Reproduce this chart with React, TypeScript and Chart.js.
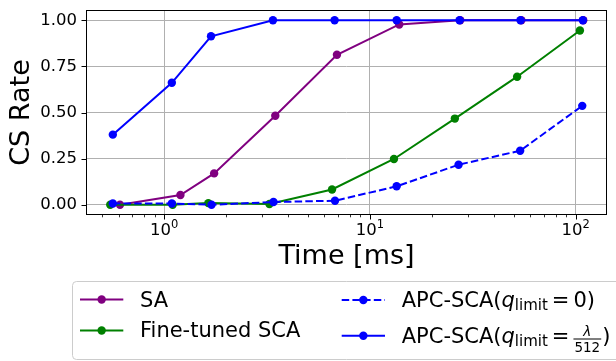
import React, { useEffect, useRef } from 'react';
import { Chart, registerables } from 'chart.js';

Chart.register(...registerables);

const FONT = "'DejaVu Sans', sans-serif";

// ---- data ----
const saTime = [0.61, 1.2, 1.75, 3.47, 6.92, 13.9, 27.5, 54.5, 109];
const saRate = [0.0, 0.053, 0.17, 0.482, 0.813, 0.977, 1.0, 1.0, 1.0];

const ftTime = [0.547, 1.1, 1.64, 3.25, 6.55, 13.1, 25.9, 52, 105];
const ftRate = [0.0, 0.0, 0.009, 0.004, 0.083, 0.248, 0.467, 0.694, 0.944];

const apc0Time = [0.563, 1.09, 1.7, 3.4, 6.77, 13.5, 27.0, 53.8, 107.8];
const apc0Rate = [0.007, 0.007, 0.0, 0.015, 0.022, 0.1, 0.217, 0.293, 0.536];

const apcLTime = [0.563, 1.09, 1.69, 3.38, 6.74, 13.5, 27.3, 54, 108.5];
const apcLRate = [0.38, 0.661, 0.913, 1.0, 1.0, 1.0, 1.0, 1.0, 1.0];

const yTicks = [0, 0.25, 0.5, 0.75, 1.0];
const xMajorTicks = [1, 10, 100];
const xMajorExp = ['0', '1', '2'];
const xMinorTicks = [0.5, 0.6, 0.7, 0.8, 0.9, 2, 3, 4, 5, 6, 7, 8, 9, 20, 30, 40, 50, 60, 70, 80, 90];

const X_MIN = 0.417;
const X_MAX = 142.2;
const Y_MIN = -0.05;
const Y_MAX = 1.05;

const PURPLE = '#800080';
const GREEN = '#008000';
const BLUE = '#0000ff';
const DASH = [7.5, 3.2];

function makeSet(label: string, xs: number[], ys: number[], color: string, dashed: boolean, order: number) {
  return {
    label,
    data: xs.map((x, i) => ({ x, y: ys[i] })),
    borderColor: color,
    backgroundColor: color,
    pointBackgroundColor: color,
    pointBorderColor: color,
    pointBorderWidth: 0,
    pointRadius: 4.2,
    borderWidth: 2,
    borderDash: dashed ? DASH : [],
    tension: 0,
    order,
  };
}

function drawText(ctx: CanvasRenderingContext2D, t: string, x: number, y: number, font: string) {
  ctx.font = font;
  ctx.fillText(t, x, y);
  return x + ctx.measureText(t).width;
}

function drawHandle(ctx: CanvasRenderingContext2D, x0: number, x1: number, y: number, color: string, dashed: boolean) {
  ctx.save();
  ctx.strokeStyle = color;
  ctx.lineWidth = 2;
  ctx.setLineDash(dashed ? DASH : []);
  ctx.beginPath();
  ctx.moveTo(x0, y);
  ctx.lineTo(x1, y);
  ctx.stroke();
  ctx.setLineDash([]);
  ctx.fillStyle = color;
  ctx.beginPath();
  ctx.arc((x0 + x1) / 2, y, 4.2, 0, Math.PI * 2);
  ctx.fill();
  ctx.restore();
}

const decor = {
  id: 'decor',
  afterDatasetsDraw(chart: any) {
    const { ctx, chartArea } = chart;
    const { left, right, top, bottom } = chartArea;
    const xs = chart.scales.x;
    const ys = chart.scales.y;
    ctx.save();
    ctx.strokeStyle = '#000';
    ctx.lineWidth = 1;
    ctx.strokeRect(left + 0.5, top - 0.5, right - left - 1, bottom - top + 1);
    ctx.beginPath();
    yTicks.forEach((v) => {
      const p = Math.round(ys.getPixelForValue(v)) + 0.5;
      ctx.moveTo(left + 0.5, p);
      ctx.lineTo(left - 4.5, p);
    });
    xMajorTicks.forEach((v) => {
      const p = Math.round(xs.getPixelForValue(v)) + 0.5;
      ctx.moveTo(p, bottom + 0.5);
      ctx.lineTo(p, bottom + 5.5);
    });
    ctx.stroke();
    ctx.lineWidth = 0.8;
    ctx.beginPath();
    xMinorTicks.forEach((v) => {
      const p = Math.round(xs.getPixelForValue(v)) + 0.5;
      ctx.moveTo(p, bottom + 0.5);
      ctx.lineTo(p, bottom + 3.3);
    });
    ctx.stroke();
    ctx.restore();
  },
  afterDraw(chart: any) {
    const { ctx } = chart;
    const xs = chart.scales.x;
    ctx.save();
    ctx.fillStyle = '#000';
    ctx.textAlign = 'left';
    ctx.textBaseline = 'alphabetic';
    xMajorTicks.forEach((v, i) => {
      const px = xs.getPixelForValue(v);
      ctx.font = `16.5px ${FONT}`;
      const w1 = ctx.measureText('10').width;
      ctx.font = `11.5px ${FONT}`;
      const w2 = ctx.measureText(xMajorExp[i]).width;
      const x0 = px - (w1 + w2) / 2;
      drawText(ctx, '10', x0, 235, `16.5px ${FONT}`);
      drawText(ctx, xMajorExp[i], x0 + w1, 227.5, `11.5px ${FONT}`);
    });

    ctx.beginPath();
    const lx = 72.5, ly = 281.5, lw = 620 - 72.5, lh = 359.5 - 281.5, r = 4;
    ctx.moveTo(lx + r, ly);
    ctx.lineTo(lx + lw - r, ly);
    ctx.arcTo(lx + lw, ly, lx + lw, ly + r, r);
    ctx.lineTo(lx + lw, ly + lh - r);
    ctx.arcTo(lx + lw, ly + lh, lx + lw - r, ly + lh, r);
    ctx.lineTo(lx + r, ly + lh);
    ctx.arcTo(lx, ly + lh, lx, ly + lh - r, r);
    ctx.lineTo(lx, ly + r);
    ctx.arcTo(lx, ly, lx + r, ly, r);
    ctx.closePath();
    ctx.fillStyle = 'rgba(255,255,255,0.8)';
    ctx.fill();
    ctx.strokeStyle = '#cccccc';
    ctx.lineWidth = 1;
    ctx.stroke();

    const LF = `21px ${FONT}`;
    const LFI = `italic 21px ${FONT}`;
    const SUB = `15px ${FONT}`;
    const FR = `13.5px ${FONT}`;
    ctx.fillStyle = '#000';

    drawHandle(ctx, 80, 123.3, 299.5, PURPLE, false);
    drawText(ctx, 'SA', 140, 307, LF);
    drawHandle(ctx, 80, 123.3, 330.5, GREEN, false);
    drawText(ctx, 'Fine-tuned SCA', 140, 337, LF);

    drawHandle(ctx, 341.7, 385, 300, BLUE, true);
    let b = 307.3;
    let cx = 401.7;
    ctx.fillStyle = '#000';
    cx = drawText(ctx, 'APC-SCA(', cx, b, LF);
    cx = drawText(ctx, 'q', cx, b, LFI);
    cx = drawText(ctx, 'limit', cx, b + 3, SUB);
    cx += 4;
    cx = drawText(ctx, '=', cx, b, LF);
    cx += 4;
    cx = drawText(ctx, '0', cx, b, LF);
    drawText(ctx, ')', cx, b, LF);

    drawHandle(ctx, 341.7, 385, 335.7, BLUE, false);
    b = 343.3;
    cx = 401.7;
    ctx.fillStyle = '#000';
    cx = drawText(ctx, 'APC-SCA(', cx, b, LF);
    cx = drawText(ctx, 'q', cx, b, LFI);
    cx = drawText(ctx, 'limit', cx, b + 3, SUB);
    cx += 4;
    cx = drawText(ctx, '=', cx, b, LF);
    cx += 4;
    ctx.font = FR;
    const wNum = ctx.measureText('λ').width;
    const wDen = ctx.measureText('512').width;
    const fw = Math.max(wNum, wDen) + 2;
    ctx.fillRect(cx, b - 4.8, fw, 1);
    drawText(ctx, 'λ', cx + (fw - wNum) / 2, b - 7.3, `italic 13.5px ${FONT}`);
    drawText(ctx, '512', cx + (fw - wDen) / 2, b + 8.4, FR);
    cx += fw + 1;
    drawText(ctx, ')', cx, b, LF);
    ctx.restore();
  },
};

export default function App() {
  const ref = useRef<HTMLCanvasElement>(null);
  useEffect(() => {
    const canvas = ref.current;
    if (!canvas) return;
    const chart = new Chart(canvas, {
      type: 'line',
      data: {
        datasets: [
          makeSet('SA', saTime, saRate, PURPLE, false, 4),
          makeSet('Fine-tuned SCA', ftTime, ftRate, GREEN, false, 3),
          makeSet('APC-SCA(q_limit = 0)', apc0Time, apc0Rate, BLUE, true, 2),
          makeSet('APC-SCA(q_limit = λ/512)', apcLTime, apcLRate, BLUE, false, 1),
        ] as any,
      },
      options: {
        animation: false,
        responsive: false,
        devicePixelRatio: 1,
        layout: { padding: { left: 0, right: 9, top: 11, bottom: 88 } },
        plugins: { legend: { display: false }, tooltip: { enabled: false } },
        scales: {
          x: {
            type: 'logarithmic',
            min: X_MIN,
            max: X_MAX,
            afterBuildTicks: (s: any) => {
              s.ticks = [...xMinorTicks, ...xMajorTicks].sort((a, b) => a - b).map((v) => ({ value: v }));
            },
            afterFit: (s: any) => {
              s.height = 59;
              s.paddingLeft = 0;
              s.paddingRight = 0;
              s.paddingTop = 0;
              s.paddingBottom = 0;
            },
            ticks: { display: false, autoSkip: false },
            grid: {
              drawTicks: false,
              lineWidth: 1,
              color: (c: any) => (c.tick && xMajorTicks.includes(c.tick.value) ? '#b0b0b0' : 'rgba(0,0,0,0)'),
            },
            border: { display: false },
            title: {
              display: true,
              text: 'Time [ms]',
              color: '#000',
              font: { family: FONT, size: 27 },
              padding: { top: 0, bottom: 0 },
            },
          },
          y: {
            type: 'linear',
            min: Y_MIN,
            max: Y_MAX,
            afterBuildTicks: (s: any) => {
              s.ticks = yTicks.map((v) => ({ value: v }));
            },
            afterFit: (s: any) => {
              s.width = 86;
              s.paddingLeft = 0;
              s.paddingRight = 0;
              s.paddingTop = 0;
              s.paddingBottom = 0;
            },
            ticks: {
              color: '#000',
              font: { family: FONT, size: 16.5 },
              padding: 9,
              callback: (v: any) => Number(v).toFixed(2),
            },
            grid: { drawTicks: false, color: '#b0b0b0', lineWidth: 1 },
            border: { display: false },
            title: {
              display: true,
              text: 'CS Rate',
              color: '#000',
              font: { family: FONT, size: 27 },
              padding: { top: 6, bottom: 0 },
            },
          },
        },
      } as any,
      plugins: [decor],
    });
    return () => chart.destroy();
  }, []);
  return (
    <div style={{ position: 'absolute', left: 0, top: 0, width: 616, height: 361 }}>
      <canvas ref={ref} width={616} height={361} style={{ width: 616, height: 361, display: 'block' }} />
    </div>
  );
}
